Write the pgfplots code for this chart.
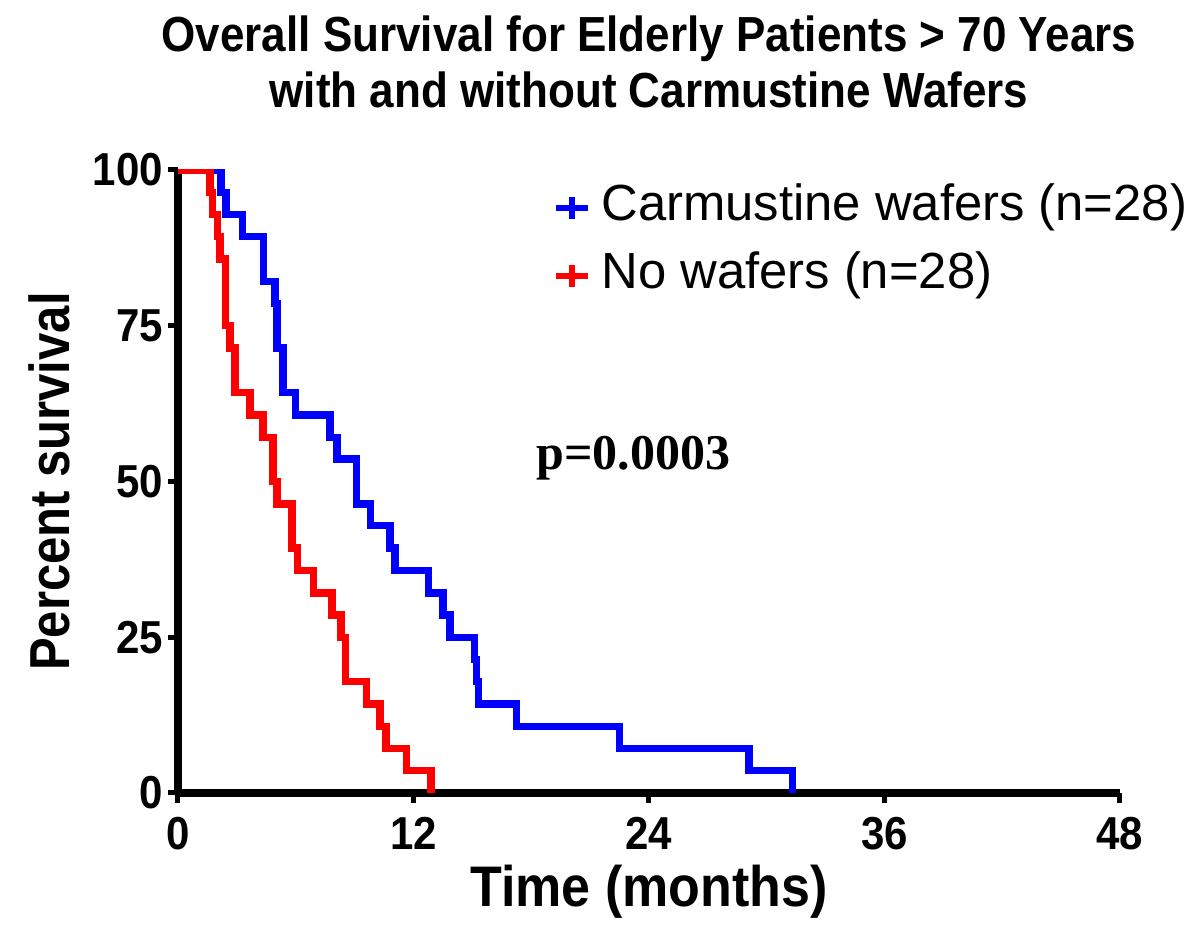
\documentclass[border=0pt]{standalone}
\usepackage{fontspec}
\setmainfont{Liberation Sans}
\newfontfamily\timesfont{Liberation Serif}
\usepackage{pgfplots}
\pgfplotsset{compat=1.18}
\definecolor{kmblue}{RGB}{0,0,255}
\definecolor{kmred}{RGB}{255,0,0}
\begin{document}
\begin{tikzpicture}
\begin{axis}[
  name=ax,
  at={(0,0)}, anchor=south west,
  scale only axis, width=471pt, height=311.5pt,
  xmin=0, xmax=48, ymin=0, ymax=100,
  axis x line=bottom, axis y line=left,
  axis line style={-, line width=4pt, black},
  xtick={0,12,24,36,48}, ytick={0,25,50,75,100},
  tick align=outside, major tick length=5pt,
  every tick/.style={black, line width=2.5pt},
  tick label style={font=\bfseries\fontsize{21}{24}\selectfont, yscale=1.1},
  xticklabel style={yshift=-3pt},
  yticklabel style={xshift=1pt},
  /pgf/number format/assume math mode=true,
  xlabel={Time (months)},
  xlabel style={font=\bfseries\fontsize{26}{30}\selectfont, yscale=1.1, at={(0.5,0)}, anchor=center, yshift=-45pt},
  ylabel={Percent survival},
  ylabel style={font=\bfseries\fontsize{24.5}{28}\selectfont, yscale=1.15, at={(0,0.5)}, anchor=center, yshift=56pt},
  title={Overall Survival for Elderly Patients > 70 Years\\with and without Carmustine Wafers},
  title style={align=center, font=\bfseries\fontsize{22}{25}\selectfont, yscale=1.12, at={(0.5,1)}, anchor=center, yshift=43pt},
  legend style={at={(axis cs:18.8,99)}, anchor=north west, draw=none, fill=none,
    font=\fontsize{25.4}{30}\selectfont, row sep=7pt, column sep=3pt,
    nodes={inner sep=2pt, text height=18pt, text depth=5pt}},
  legend cell align=left,
  legend image code/.code={
    \draw[#1, line width=3pt] (0pt,0pt) -- (16pt,0pt);
    \draw[#1, line width=3pt] (8pt,-5.5pt) -- (8pt,5.5pt);
  },
]
\addplot[const plot, kmblue, line width=3.7pt] coordinates {
(0,100) (2.2,96.4) (2.45,92.9) (3.3,89.3) (4.35,82.1) (4.95,78.6) (5.05,71.4)
(5.35,64.3) (6.0,60.7) (7.75,57.1) (8.1,53.6) (9.1,46.4) (9.8,42.9) (10.8,39.3)
(11.05,35.7) (12.75,32.1) (13.5,28.6) (13.85,25.0) (15.1,21.4) (15.2,17.9)
(15.3,14.3) (17.25,10.7) (22.5,7.1) (29.1,3.6) (31.3,0)
};
\addlegendentry{Carmustine wafers (n=28)}
\addplot[const plot, kmred, line width=3.7pt] coordinates {
(0,100) (1.63,96.4) (1.75,92.9) (2.0,89.3) (2.15,85.7) (2.43,75.0) (2.65,71.4)
(2.9,64.3) (3.67,60.7) (4.33,57.1) (4.85,50.0) (5.05,46.4) (5.8,39.3) (6.1,35.7)
(6.9,32.1) (7.85,28.6) (8.3,25.0) (8.55,17.9) (9.6,14.3) (10.3,10.7) (10.6,7.1)
(11.65,3.6) (12.9,0)
};
\addlegendentry{No wafers (n=28)}
\node[font=\timesfont\bfseries\fontsize{25}{30}\selectfont] at (axis cs:23.2,53.8) {p=0.0003};
\end{axis}
\pgfresetboundingbox
\path (-89pt,-69pt) rectangle (506.5pt,396.5pt);
\end{tikzpicture}
\end{document}
